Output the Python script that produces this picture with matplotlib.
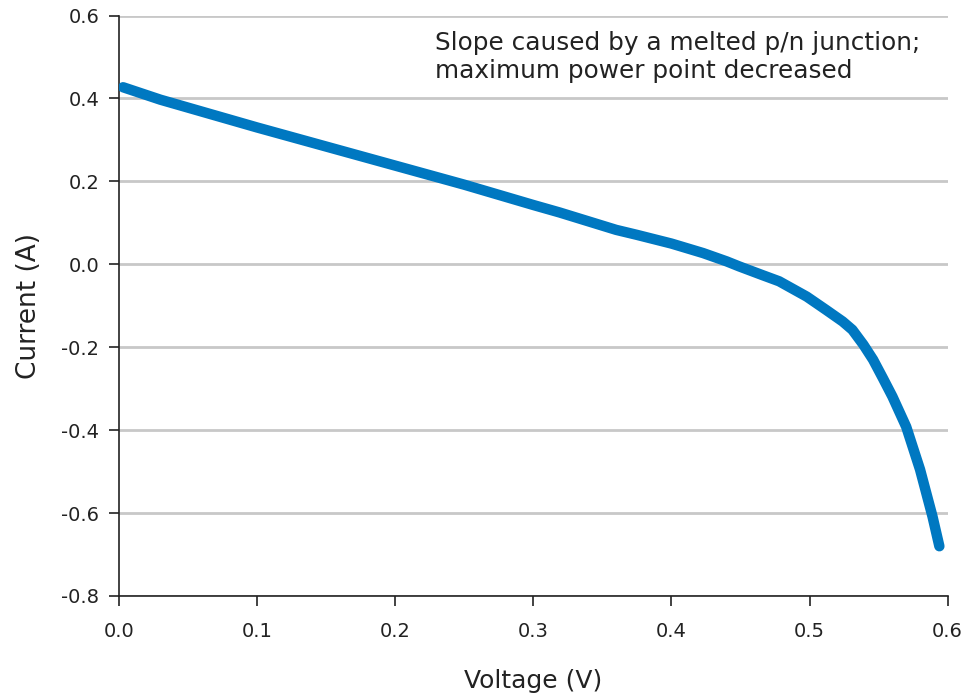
import matplotlib
matplotlib.use("Agg")
from matplotlib import pyplot as plt

plt.rcParams['font.family'] = ['DejaVu Sans']
plt.rcParams['axes.unicode_minus'] = False

# I-V curve
voltage = [0.003, 0.03, 0.1, 0.2, 0.25, 0.3, 0.319, 0.36, 0.375, 0.4, 0.423,
           0.44, 0.449, 0.465, 0.478, 0.498, 0.512, 0.524, 0.531, 0.539,
           0.546, 0.553, 0.56, 0.57, 0.58, 0.589, 0.594]
current = [0.427, 0.397, 0.330, 0.238, 0.192, 0.143, 0.125, 0.083, 0.071,
           0.050, 0.027, 0.007, -0.005, -0.025, -0.041, -0.078, -0.110,
           -0.138, -0.158, -0.194, -0.230, -0.274, -0.319, -0.392, -0.495,
           -0.608, -0.680]

xticks = [0.0, 0.1, 0.2, 0.3, 0.4, 0.5, 0.6]
yticks = [-0.8, -0.6, -0.4, -0.2, 0.0, 0.2, 0.4, 0.6]

fig = plt.figure(figsize=(9.67, 6.96), dpi=100)
ax = fig.add_axes([0.123, 0.1437, 0.857, 0.834])

ax.plot(voltage, current, color='#0078c1', linewidth=7.5,
        solid_capstyle='round', solid_joinstyle='round', zorder=3)

ax.set_xlim(0, 0.6)
ax.set_ylim(-0.8, 0.6)
ax.set_xticks(xticks)
ax.set_yticks(yticks)
ax.set_xticklabels(['%.1f' % v for v in xticks])
ax.set_yticklabels(['%.1f' % v for v in yticks])
ax.yaxis.grid(True, color='#c8c8c8', linewidth=2)
ax.set_axisbelow(True)
for s in ['top', 'right']:
    ax.spines[s].set_visible(False)
for s in ['left', 'bottom']:
    ax.spines[s].set_color('#222222')
    ax.spines[s].set_linewidth(1.2)
ax.tick_params(direction='out', length=7, width=1.2, color='#222222',
               labelsize=14, labelcolor='#222222', pad=7)
ax.tick_params(axis='x', pad=12)

ax.set_xlabel('Voltage (V)', fontsize=18, color='#222222', labelpad=20)
ax.set_ylabel('Current (A)', fontsize=19, color='#222222', labelpad=14)

ax.text(0.2287, 0.500, 'Slope caused by a melted p/n junction;\nmaximum power point decreased',
        fontsize=17.8, color='#222222', ha='left', va='center', linespacing=1.2)

fig.savefig('out.png', dpi=100)
